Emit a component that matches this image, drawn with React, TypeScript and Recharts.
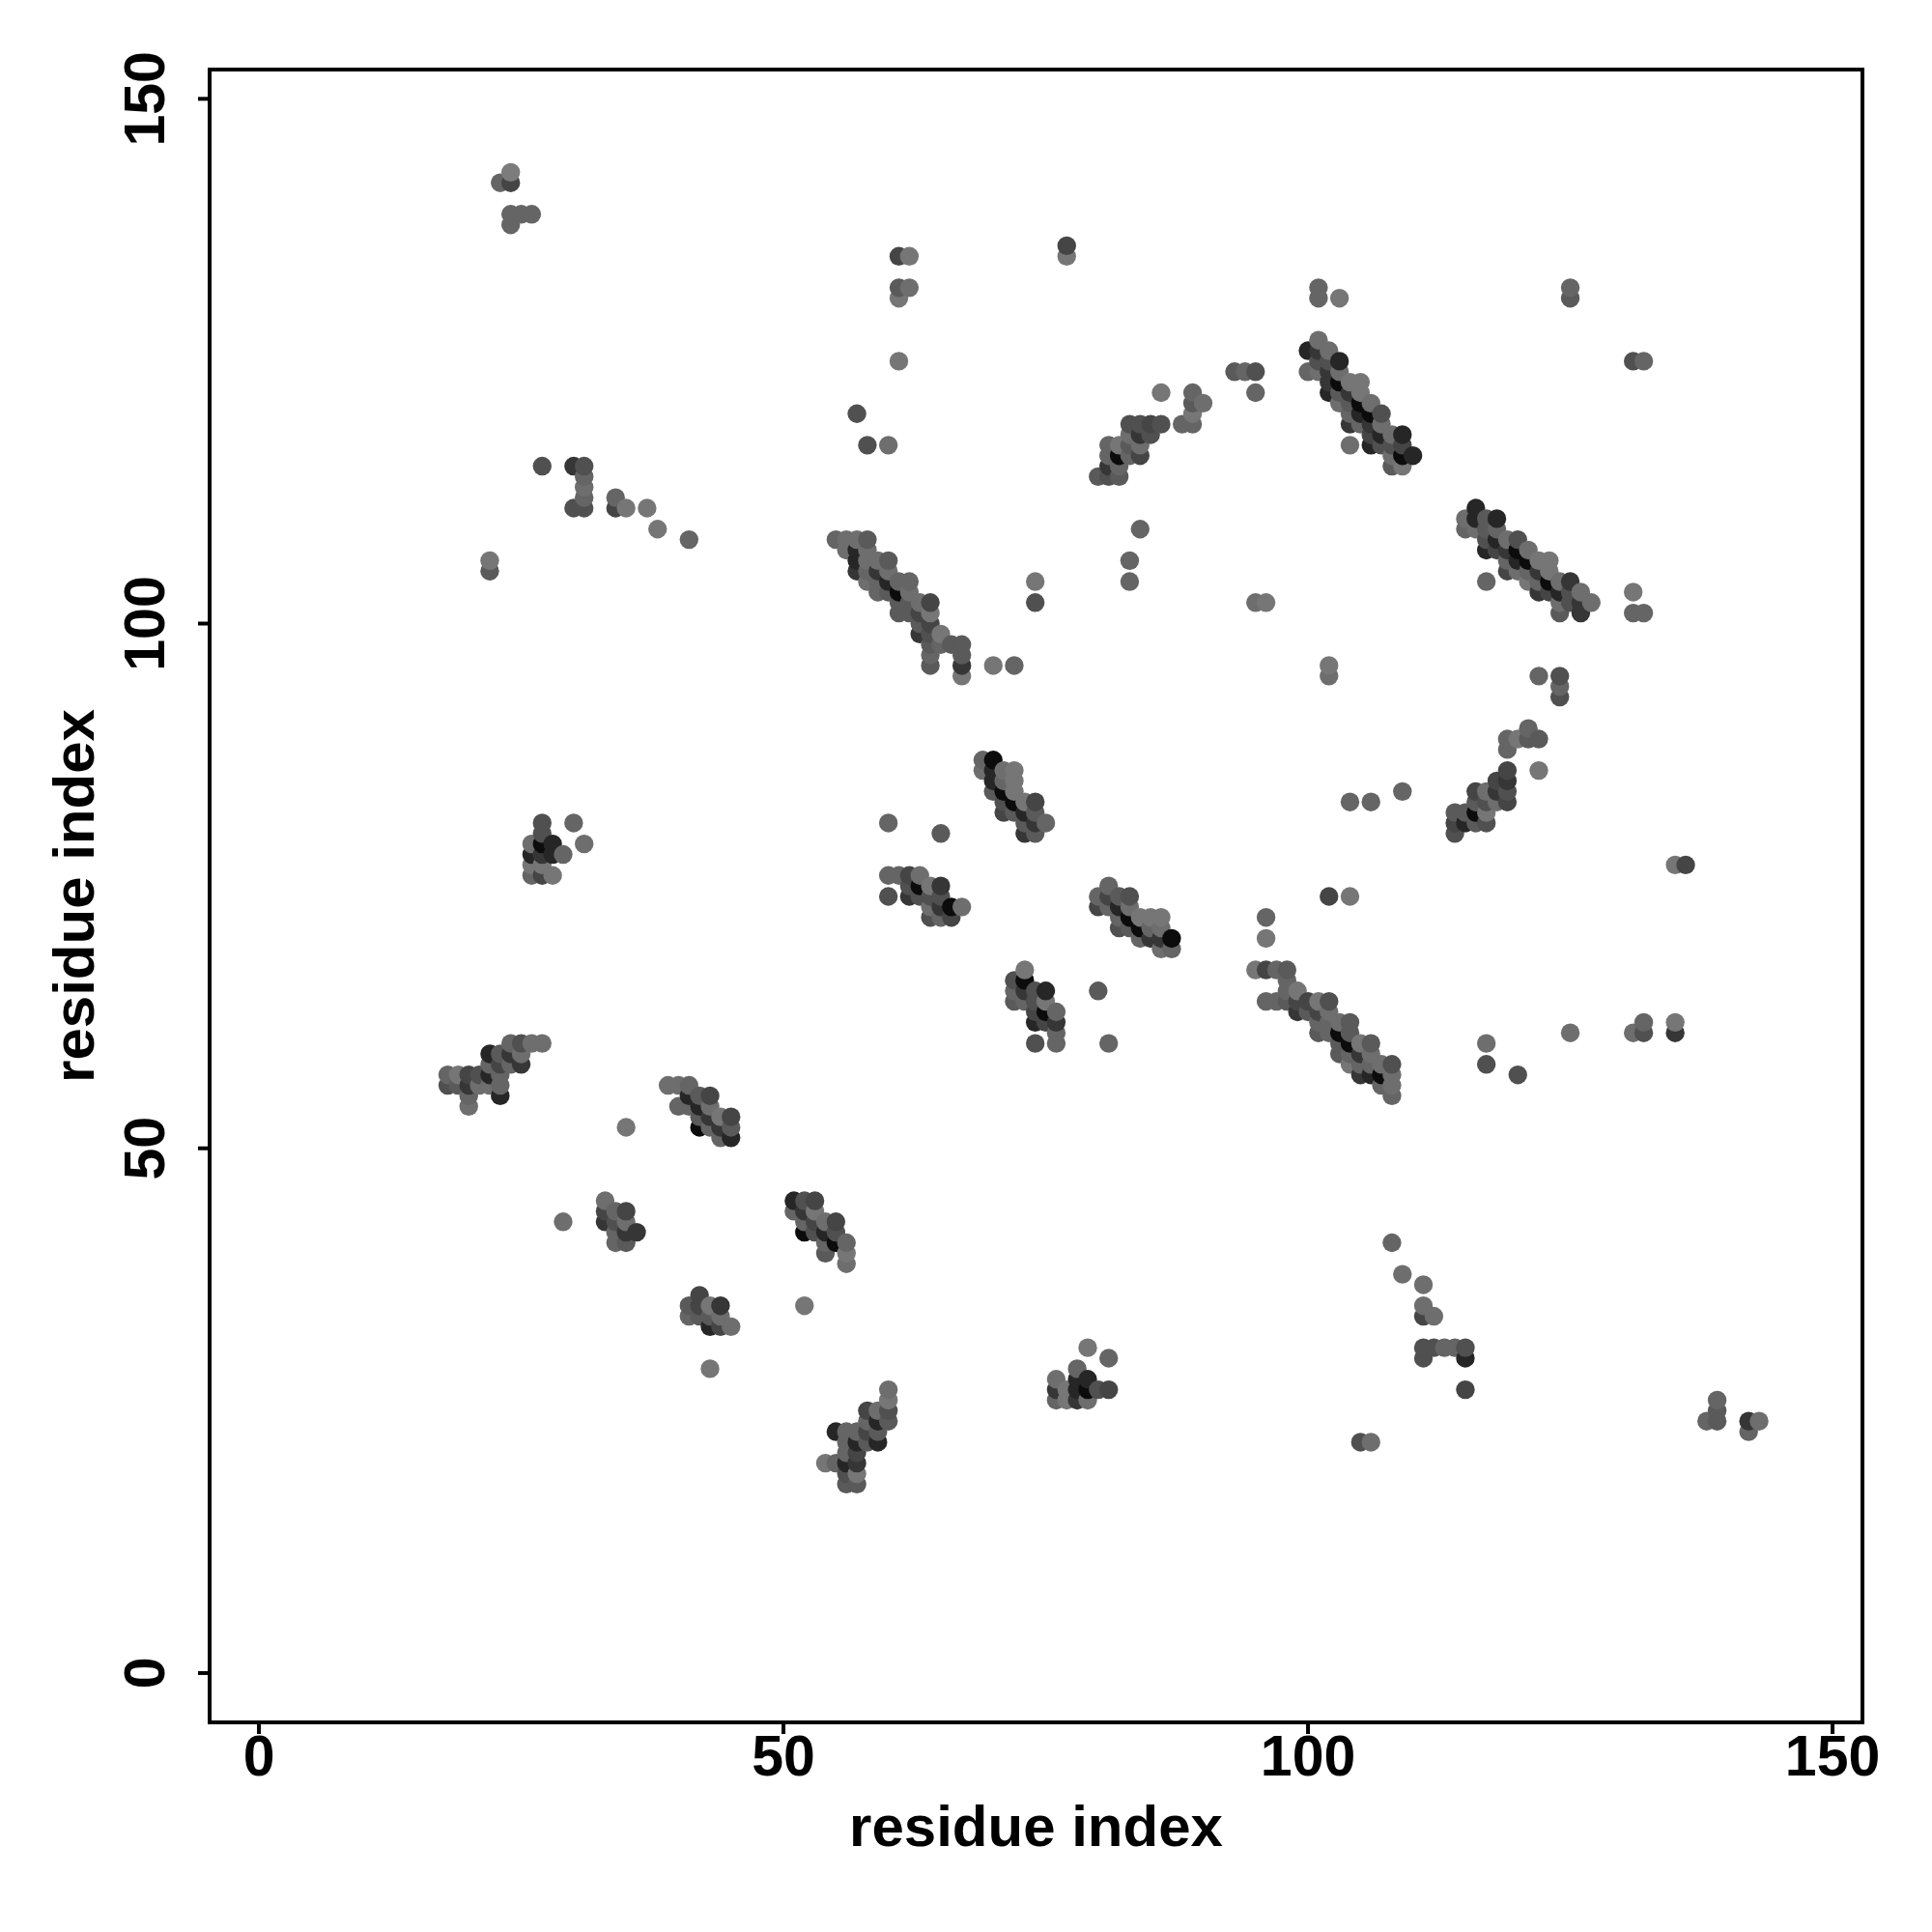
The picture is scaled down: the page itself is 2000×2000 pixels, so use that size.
import React from 'react';
import { ScatterChart, Scatter, XAxis, YAxis, ReferenceArea, Label } from 'recharts';

type C = [number, number, number];

const tickValues = [0, 50, 100, 150];
const xDomain = [-4.7, 152.85];
const yDomain = [-4.7, 152.79];
const axisTitle = 'residue index';

const isolatedTop: C[] = [
  [23,142,3],[24,142,6],[24,143,0],[24,138,3],[24,139,3],[25,139,3],[26,139,3],
  [27,115,5],[30,115,7],[31,115,5],[31,114,3],[31,113,2],[31,112,3],[31,111,5],[30,111,5],
  [34,112,3],[34,111,6],[35,111,1],[37,111,1],[38,109,1],[41,108,3],[22,106,1],[22,105,4],
  [57,120,5],[58,117,5],[60,117,2],[61,135,6],[62,135,1],[61,132,4],[62,132,2],[61,131,1],[61,125,1],
  [77,136,6],[77,135,1],[86,122,1],[89,122,3],[89,121,4],[90,121,2],[89,120,1],[89,119,3],[88,119,3],
  [93,124,4],[94,124,3],[95,124,5],[95,122,3],[70,96,1],[72,96,3],[74,104,1],[74,102,5],
  [84,109,3],[83,106,3],[83,104,3],[95,102,2],[96,102,1],[101,132,3],[101,131,3],[103,131,1],[104,117,2],
  [125,132,3],[125,131,4],[131,125,5],[132,125,3],[131,103,1],[131,101,3],[132,101,3],[117,104,3],
];
const isolatedMid: C[] = [
  [102,96,1],[102,95,2],[122,95,3],[124,95,5],[124,94,3],[124,93,5],[122,86,1],
  [104,83,3],[106,83,3],[109,84,3],[135,77,1],[136,77,6],[102,74,6],[104,74,1],[96,72,3],[96,70,1],
  [60,81,3],[65,80,4],[60,74,5],[80,65,4],[81,60,3],[74,60,5],[117,60,2],[117,58,5],[120,57,5],
  [125,61,2],[131,61,2],[132,62,3],[132,61,5],[135,62,1],[135,61,7],[30,81,3],[31,79,2],
];
const isolatedLow: C[] = [
  [35,52,1],[29,43,2],[43,29,1],[52,35,1],[79,31,1],[81,30,3],
  [108,41,3],[109,38,2],[111,37,2],[111,35,2],[111,34,6],[112,34,2],
  [111,31,5],[112,31,5],[113,31,3],[114,31,3],[115,31,5],[111,30,5],[115,30,8],[115,27,6],
  [105,22,5],[106,22,2],[139,26,3],[139,25,4],[138,24,3],[139,24,4],[142,24,7],[143,24,2],[142,23,3],
];
const clusterA: C[] = [
  [80,114,4],[81,114,5],[82,114,4],[81,115,7],[81,116,3],[81,117,3],[82,117,1],[82,116,9],[82,115,3],
  [83,117,4],[83,118,2],[83,119,5],[83,116,3],[84,119,5],[84,118,7],[84,117,2],[84,116,6],[85,119,6],[85,118,5],[86,119,5],
];
const clusterB: C[] = [
  [55,108,3],[56,108,2],[57,108,2],[58,108,4],[56,107,2],[57,107,8],[58,107,2],[57,106,8],[58,106,2],[59,106,2],[60,106,4],
  [57,105,7],[58,105,3],[59,105,7],[60,105,2],[58,104,2],[59,104,3],[60,104,8],[61,104,3],[62,104,3],
  [59,103,3],[60,103,4],[61,103,9],[62,103,2],[61,102,4],[62,102,4],[63,102,2],[64,102,6],[61,101,4],[62,101,4],[63,101,6],[64,101,1],
  [63,100,4],[64,100,6],[63,99,7],[64,99,5],[65,99,1],[64,98,4],[65,98,3],[66,98,4],[67,98,4],[64,97,3],[67,97,4],[64,96,4],[67,96,7],[67,95,1],
];
const clusterC: C[] = [
  [101,127,2],[100,126,8],[101,126,7],[102,126,2],[101,125,5],[102,125,5],[103,125,8],[100,124,3],[101,124,2],[102,124,7],[103,124,2],
  [102,123,7],[103,123,9],[104,123,1],[105,123,1],[102,122,8],[103,122,4],[104,122,7],[105,122,1],[103,121,2],[104,121,4],[105,121,9],[106,121,2],
  [104,120,3],[105,120,8],[106,120,9],[107,120,5],[104,119,7],[105,119,3],[106,119,7],[107,119,2],[106,118,6],[107,118,8],[108,118,2],[109,118,8],
  [106,117,8],[107,117,5],[108,117,5],[109,117,6],[108,116,2],[109,116,9],[110,116,8],[108,115,4],[109,115,1],
];
const clusterD: C[] = [
  [116,111,8],[115,110,2],[116,110,8],[117,110,4],[118,110,8],[115,109,3],[116,109,2],[117,109,4],[118,109,3],
  [117,108,5],[118,108,8],[119,108,2],[120,108,5],[117,107,8],[118,107,6],[119,107,7],[120,107,9],[121,107,2],
  [119,106,3],[120,106,8],[121,106,9],[122,106,1],[123,106,1],[119,105,6],[120,105,2],[121,105,3],[122,105,7],[123,105,1],
  [121,104,1],[122,104,3],[123,104,9],[124,104,2],[125,104,7],[122,103,7],[123,103,6],[124,103,8],[125,103,5],[126,103,2],
  [124,102,2],[125,102,5],[126,102,7],[127,102,2],[124,101,4],[126,101,7],
];
const clusterR: C[] = [
  [121,90,3],[121,89,4],[122,89,4],[120,89,1],[119,89,3],[119,88,3],
  [119,86,6],[119,85,7],[119,84,5],[119,83,6],[118,85,6],[118,84,7],[118,83,2],[117,84,2],[117,83,5],[117,82,1],[117,81,5],
  [116,84,6],[116,83,4],[116,82,9],[116,81,4],[115,82,4],[115,81,8],[114,82,4],[114,81,6],[114,80,5],
];
const clusterE: C[] = [
  [69,87,3],[69,86,2],[70,87,9],[70,86,8],[70,85,8],[70,84,4],[71,86,2],[71,85,3],[71,84,9],[71,83,5],[71,82,6],
  [72,86,1],[72,85,1],[72,84,1],[72,83,9],[72,82,4],[73,83,1],[73,82,8],[73,81,4],[73,80,7],[74,83,6],[74,82,4],[74,81,7],[74,80,4],[75,81,3],
];
const clusterF: C[] = [
  [60,76,3],[61,76,3],[62,76,6],[63,76,2],[62,75,5],[63,75,9],[64,75,1],[65,75,7],[62,74,7],[63,74,5],[64,74,5],[65,74,5],
  [66,73,9],[67,73,2],[64,73,2],[65,73,7],[64,72,5],[65,72,3],[66,72,6],
];
const clusterG: C[] = [
  [81,75,3],[80,74,3],[81,74,6],[82,74,4],[83,74,5],[80,73,6],[81,73,3],[82,73,8],[83,73,2],[82,72,3],[83,72,9],[84,72,1],[85,72,1],[86,72,1],
  [82,71,5],[83,71,4],[84,71,9],[85,71,3],[86,71,2],[84,70,3],[85,70,7],[86,70,7],[87,70,9],[86,69,2],[87,69,3],
];
const clusterH: C[] = [
  [73,67,1],[72,66,5],[73,66,9],[72,65,3],[73,65,7],[74,65,5],[75,65,8],[72,64,4],[73,64,3],[74,64,5],[75,64,1],
  [74,63,6],[75,63,9],[76,63,3],[74,62,8],[75,62,6],[76,62,7],[76,61,3],[76,60,3],
];
const clusterI: C[] = [
  [95,67,1],[96,67,6],[97,67,3],[98,67,4],[98,66,3],[98,65,3],[99,65,1],[96,64,3],[97,64,3],[98,64,4],[99,64,6],[100,64,6],[101,64,1],[102,64,5],
  [99,63,7],[100,63,4],[101,63,6],[102,63,2],[101,62,3],[102,62,3],[103,62,2],[104,62,4],[101,61,4],[102,61,3],[103,61,9],[104,61,4],
  [103,60,4],[104,60,9],[105,60,1],[106,60,4],[103,59,4],[104,59,3],[105,59,7],[106,59,2],[104,58,1],[105,58,3],[106,58,3],[107,58,2],[108,58,5],
  [105,57,7],[106,57,8],[107,57,9],[108,57,2],[107,56,3],[108,56,2],[108,55,3],
];
const clusterJ: C[] = [
  [27,81,5],[27,80,5],[26,79,2],[27,79,9],[28,79,8],[26,78,8],[27,78,7],[28,78,8],[29,78,3],[26,77,1],[27,77,1],[26,76,3],[27,76,6],[28,76,1],
];
const clusterK: C[] = [
  [27,60,2],[26,60,2],[25,60,5],[24,60,3],[22,59,8],[23,59,4],[24,59,7],[25,59,2],[22,58,3],[23,58,6],[24,58,3],[25,58,7],
  [18,57,3],[19,57,1],[20,57,6],[21,57,5],[22,57,8],[23,57,3],[18,56,5],[19,56,4],[20,56,7],[21,56,2],[22,56,2],[23,56,3],[20,55,3],[23,55,8],[20,54,2],
];
const clusterL: C[] = [
  [39,56,2],[40,56,2],[41,56,3],[40,54,3],[41,55,8],[42,55,4],[43,55,6],[41,54,3],[42,54,8],[43,54,2],[42,53,4],[43,53,7],[44,53,1],[45,53,6],
  [42,52,9],[43,52,3],[44,52,7],[45,52,4],[44,51,3],[45,51,8],
];
const clusterM: C[] = [
  [33,45,2],[33,44,6],[34,44,3],[35,44,6],[33,43,7],[34,43,5],[35,43,2],[34,42,3],[35,42,7],[36,42,7],[34,41,3],[35,41,4],
];
const clusterN: C[] = [
  [51,45,8],[52,45,5],[53,45,6],[51,44,3],[52,44,7],[53,44,1],[52,43,3],[53,43,6],[54,43,2],[55,43,6],[52,42,9],[53,42,5],[54,42,8],[55,42,5],
  [54,41,3],[55,41,9],[56,41,3],[54,40,4],[56,40,1],[56,39,2],
];
const clusterO: C[] = [
  [42,36,6],[41,35,4],[42,35,6],[43,35,1],[44,35,7],[41,34,3],[42,34,4],[43,34,4],[44,34,2],[43,33,8],[44,33,6],[45,33,2],
];
const clusterP: C[] = [
  [60,27,2],[60,26,1],[60,25,5],[60,24,4],[58,25,6],[59,25,2],[59,24,8],[58,24,3],[58,23,6],[59,23,4],[59,22,8],
  [55,23,8],[56,23,3],[57,23,3],[56,22,3],[57,22,8],[58,22,4],[56,21,3],[57,21,6],[54,20,1],[55,20,3],[56,20,8],[57,20,7],[56,19,5],[57,19,1],[56,18,4],[57,18,4],
];
const clusterQ: C[] = [
  [78,29,3],[76,28,2],[78,28,8],[79,28,8],[76,27,7],[77,27,1],[78,27,8],[79,27,9],[80,27,5],[81,27,6],[76,26,3],[77,26,1],[78,26,7],[79,26,2],
];

const contacts = [
  ...isolatedTop, ...isolatedMid, ...isolatedLow, ...clusterA, ...clusterB, ...clusterC, ...clusterD, ...clusterR,
  ...clusterE, ...clusterF, ...clusterG, ...clusterH, ...clusterI, ...clusterJ, ...clusterK, ...clusterL,
  ...clusterM, ...clusterN, ...clusterO, ...clusterP, ...clusterQ,
]
  .sort((a, b) => a[0] - b[0] || a[1] - b[1])
  .map(([x, y, score]) => ({ x, y, score }));

const FONT = '"Liberation Sans", Arial, sans-serif';
const GREYS = [124, 118, 110, 101, 90, 80, 69, 54, 38, 12];
const grey = (s: number) => `rgb(${GREYS[s]},${GREYS[s]},${GREYS[s]})`;

const Dot = (p: any) => <circle cx={p.cx} cy={p.cy} r={9.7} fill={grey(p.payload.score)} />;

const XTick = (p: any) => (
  <text x={p.x} y={1818} textAnchor="middle" dominantBaseline="central" fontFamily={FONT} fontWeight="bold" fontSize={59} fill="#000">
    {p.payload.value}
  </text>
);
const YTick = (p: any) => (
  <text
    transform={`translate(150 ${p.y}) rotate(-90)`}
    textAnchor="middle"
    dominantBaseline="central"
    fontFamily={FONT}
    fontWeight="bold"
    fontSize={59}
    fill="#000"
  >
    {p.payload.value}
  </text>
);

export default function App() {
  return (
    <div style={{ position: 'absolute', left: 0, top: 0, width: 2000, height: 2000, background: '#fff' }}>
      <ScatterChart width={2000} height={2000} margin={{ top: 72, right: 72, bottom: 87, left: 67 }}>
        <XAxis
          type="number"
          dataKey="x"
          domain={xDomain}
          ticks={tickValues}
          interval={0}
          height={130}
          axisLine={false}
          tickSize={12}
          tickLine={{ stroke: '#000', strokeWidth: 4 }}
          tick={<XTick />}
        >
          <Label
            value={axisTitle}
            position="insideBottom"
            offset={2}
            style={{ fontFamily: FONT, fontWeight: 'bold', fontSize: 60, fill: '#000' }}
          />
        </XAxis>
        <YAxis
          type="number"
          dataKey="y"
          domain={yDomain}
          ticks={tickValues}
          interval={0}
          width={150}
          axisLine={false}
          tickSize={12}
          tickLine={{ stroke: '#000', strokeWidth: 4 }}
          tick={<YTick />}
        >
          <Label
            value={axisTitle}
            angle={-90}
            position="center"
            dx={-66}
            style={{ fontFamily: FONT, fontWeight: 'bold', fontSize: 60, fill: '#000', textAnchor: 'middle' }}
          />
        </YAxis>
        <Scatter data={contacts} isAnimationActive={false} shape={Dot} />
        <ReferenceArea
          x1={xDomain[0]}
          x2={xDomain[1]}
          y1={yDomain[0]}
          y2={yDomain[1]}
          fill="none"
          stroke="#000"
          strokeWidth={4}
          ifOverflow="visible"
        />
      </ScatterChart>
    </div>
  );
}
